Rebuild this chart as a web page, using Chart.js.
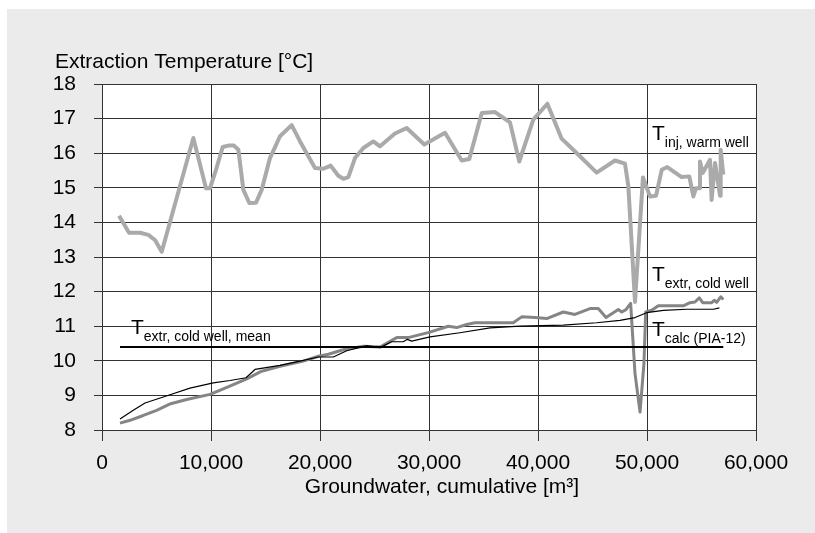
<!DOCTYPE html>
<html>
<head>
<meta charset="utf-8">
<script src="https://cdn.jsdelivr.net/npm/chart.js@4.4.1/dist/chart.umd.min.js"></script>
<style>
html, body { margin: 0; padding: 0; background: #fff; }
#wrap { width: 815px; height: 533px; }
</style>
</head>
<body>
<div id="wrap"><canvas id="tempChart" width="815" height="533"></canvas></div>
<script>
// warm well injection temperature
var warmX = [1560, 2480, 3490, 4250, 4860, 5480, 8380, 9540, 9910, 10460, 11070, 11590, 12110, 12510, 12970, 13520, 14130, 14650, 15410, 16330, 17400, 18170, 19540, 20310, 20980, 21680, 22140, 22600, 23210, 23980, 24890, 25510, 26880, 27950, 29570, 31470, 33000, 33700, 34840, 36060, 37430, 38280, 39570, 40860, 42170, 43850, 45380, 47060, 47980, 48290, 48900, 49630, 50280, 50830, 51350, 51860, 53180, 53880, 54250, 54500, 54800, 54860, 55110, 55780, 55930, 56240, 56450, 56700, 56760, 57000];
var warmY = [14.19, 13.70, 13.70, 13.64, 13.49, 13.15, 16.44, 14.99, 14.99, 15.52, 16.18, 16.22, 16.22, 16.10, 14.94, 14.56, 14.57, 14.94, 15.86, 16.49, 16.81, 16.34, 15.57, 15.55, 15.64, 15.35, 15.26, 15.31, 15.86, 16.15, 16.34, 16.20, 16.57, 16.73, 16.25, 16.59, 15.79, 15.83, 17.16, 17.19, 16.89, 15.76, 16.97, 17.43, 16.42, 15.91, 15.44, 15.79, 15.70, 15.04, 11.70, 15.30, 14.75, 14.77, 15.52, 15.60, 15.31, 15.33, 14.75, 14.99, 14.99, 15.76, 15.43, 15.81, 14.65, 15.72, 15.28, 14.77, 16.10, 15.38];

// cold well extraction temperature
var coldX = [1650, 2570, 3790, 5010, 6300, 7770, 9910, 11130, 13280, 14650, 16330, 18470, 19850, 20770, 22140, 23970, 25510, 27040, 28100, 30090, 31770, 32540, 33460, 34220, 37730, 38500, 39720, 40800, 42320, 43390, 44770, 45530, 46240, 47370, 47680, 48070, 48500, 48900, 49360, 49720, 49880, 50430, 51040, 53330, 53940, 54400, 54800, 55110, 55940, 56170, 56390, 56760, 57000];
var coldY = [8.20, 8.28, 8.42, 8.57, 8.76, 8.88, 9.03, 9.19, 9.48, 9.70, 9.84, 9.99, 10.13, 10.19, 10.32, 10.42, 10.40, 10.67, 10.67, 10.83, 11.00, 10.96, 11.05, 11.10, 11.10, 11.27, 11.25, 11.22, 11.41, 11.34, 11.51, 11.51, 11.25, 11.48, 11.41, 11.48, 11.66, 9.63, 8.52, 9.92, 11.41, 11.46, 11.59, 11.59, 11.68, 11.70, 11.82, 11.68, 11.68, 11.75, 11.69, 11.85, 11.77];

// calculated (PIA-12)
var calcX = [1650, 2870, 3950, 6240, 8070, 10210, 11740, 13210, 14040, 16330, 18470, 19850, 21220, 22450, 24280, 25510, 26580, 27640, 28010, 28410, 30090, 32840, 35600, 38350, 42320, 45380, 47520, 48900, 49970, 51500, 53640, 56090, 56640];
var calcY = [8.32, 8.57, 8.78, 9.02, 9.21, 9.36, 9.43, 9.51, 9.75, 9.87, 10.01, 10.11, 10.11, 10.29, 10.44, 10.38, 10.55, 10.55, 10.62, 10.57, 10.69, 10.81, 10.95, 11.00, 11.03, 11.10, 11.17, 11.25, 11.39, 11.46, 11.49, 11.49, 11.53];

// mean extraction temperature
var meanX = [1650, 57000];
var meanY = [10.4, 10.4];

var xTicks = [0, 10000, 20000, 30000, 40000, 50000, 60000];
var yTicks = [8, 9, 10, 11, 12, 13, 14, 15, 16, 17, 18];

function pts(xs, ys) {
    return xs.map(function (x, i) { return { x: x, y: ys[i] }; });
}

var FONT = '"Liberation Sans", Arial, Helvetica, sans-serif';
Chart.defaults.font.family = FONT;
Chart.defaults.color = '#000';

function subLabel(ctx, x, y, main, sub) {
    ctx.font = '21px ' + FONT;
    ctx.fillText(main, x, y);
    var w = ctx.measureText(main).width;
    ctx.font = '14px ' + FONT;
    ctx.fillText(sub, x + w, y + 7);
}

var decoPlugin = {
    id: 'deco',
    beforeDraw: function (chart) {
        var ctx = chart.ctx, a = chart.chartArea;
        ctx.save();
        ctx.fillStyle = '#ebebeb';
        ctx.fillRect(7, 9, chart.width - 7, chart.height - 9);
        ctx.fillStyle = '#fff';
        ctx.fillRect(a.left, a.top, a.right - a.left, a.bottom - a.top);
        ctx.restore();
    },
    afterDraw: function (chart) {
        var ctx = chart.ctx;
        ctx.save();
        ctx.fillStyle = '#000';
        ctx.textBaseline = 'alphabetic';
        ctx.textAlign = 'left';
        ctx.font = '21px ' + FONT;
        ctx.fillText('Extraction Temperature [\u00B0C]', 55, 68);
        ctx.textAlign = 'center';
        ctx.fillText('Groundwater, cumulative [m\u00B3]', 442, 493);
        ctx.textAlign = 'left';
        subLabel(ctx, 652, 140, 'T', 'inj, warm well');
        subLabel(ctx, 652, 281, 'T', 'extr, cold well');
        subLabel(ctx, 652, 336, 'T', 'calc (PIA-12)');
        subLabel(ctx, 131, 334, 'T', 'extr, cold well, mean');
        ctx.restore();
    }
};

new Chart(document.getElementById('tempChart'), {
    type: 'line',
    data: {
        datasets: [
            { label: 'T calc (PIA-12)', data: pts(calcX, calcY), borderColor: '#000', borderWidth: 1.2 },
            { label: 'T extr, cold well, mean', data: pts(meanX, meanY), borderColor: '#000', borderWidth: 2 },
            { label: 'T extr, cold well', data: pts(coldX, coldY), borderColor: '#858585', borderWidth: 3 },
            { label: 'T inj, warm well', data: pts(warmX, warmY), borderColor: '#aaaaaa', borderWidth: 4 }
        ]
    },
    options: {
        responsive: false,
        animation: false,
        devicePixelRatio: 1,
        layout: { padding: { top: 84, right: 59, bottom: 0, left: 0 } },
        elements: {
            point: { radius: 0 },
            line: { tension: 0, fill: false, borderJoinStyle: 'round' }
        },
        plugins: {
            legend: { display: false },
            tooltip: { enabled: false }
        },
        scales: {
            x: {
                type: 'linear',
                min: 0,
                max: 60000,
                afterFit: function (s) { s.height = 103; },
                afterBuildTicks: function (s) { s.ticks = xTicks.map(function (v) { return { value: v }; }); },
                ticks: {
                    font: { size: 21 },
                    padding: 10,
                    maxRotation: 0,
                    callback: function (v) { return v.toLocaleString('en-US'); }
                },
                grid: { color: '#333', lineWidth: 1, tickLength: 11 },
                border: { color: '#333', width: 1 }
            },
            y: {
                type: 'linear',
                min: 8,
                max: 18,
                afterFit: function (s) { s.width = 102; },
                afterBuildTicks: function (s) { s.ticks = yTicks.map(function (v) { return { value: v }; }); },
                ticks: { font: { size: 21 }, padding: 18 },
                grid: { color: '#333', lineWidth: 1, tickLength: 8 },
                border: { color: '#333', width: 1 }
            }
        }
    },
    plugins: [decoPlugin]
});
</script>
</body>
</html>
